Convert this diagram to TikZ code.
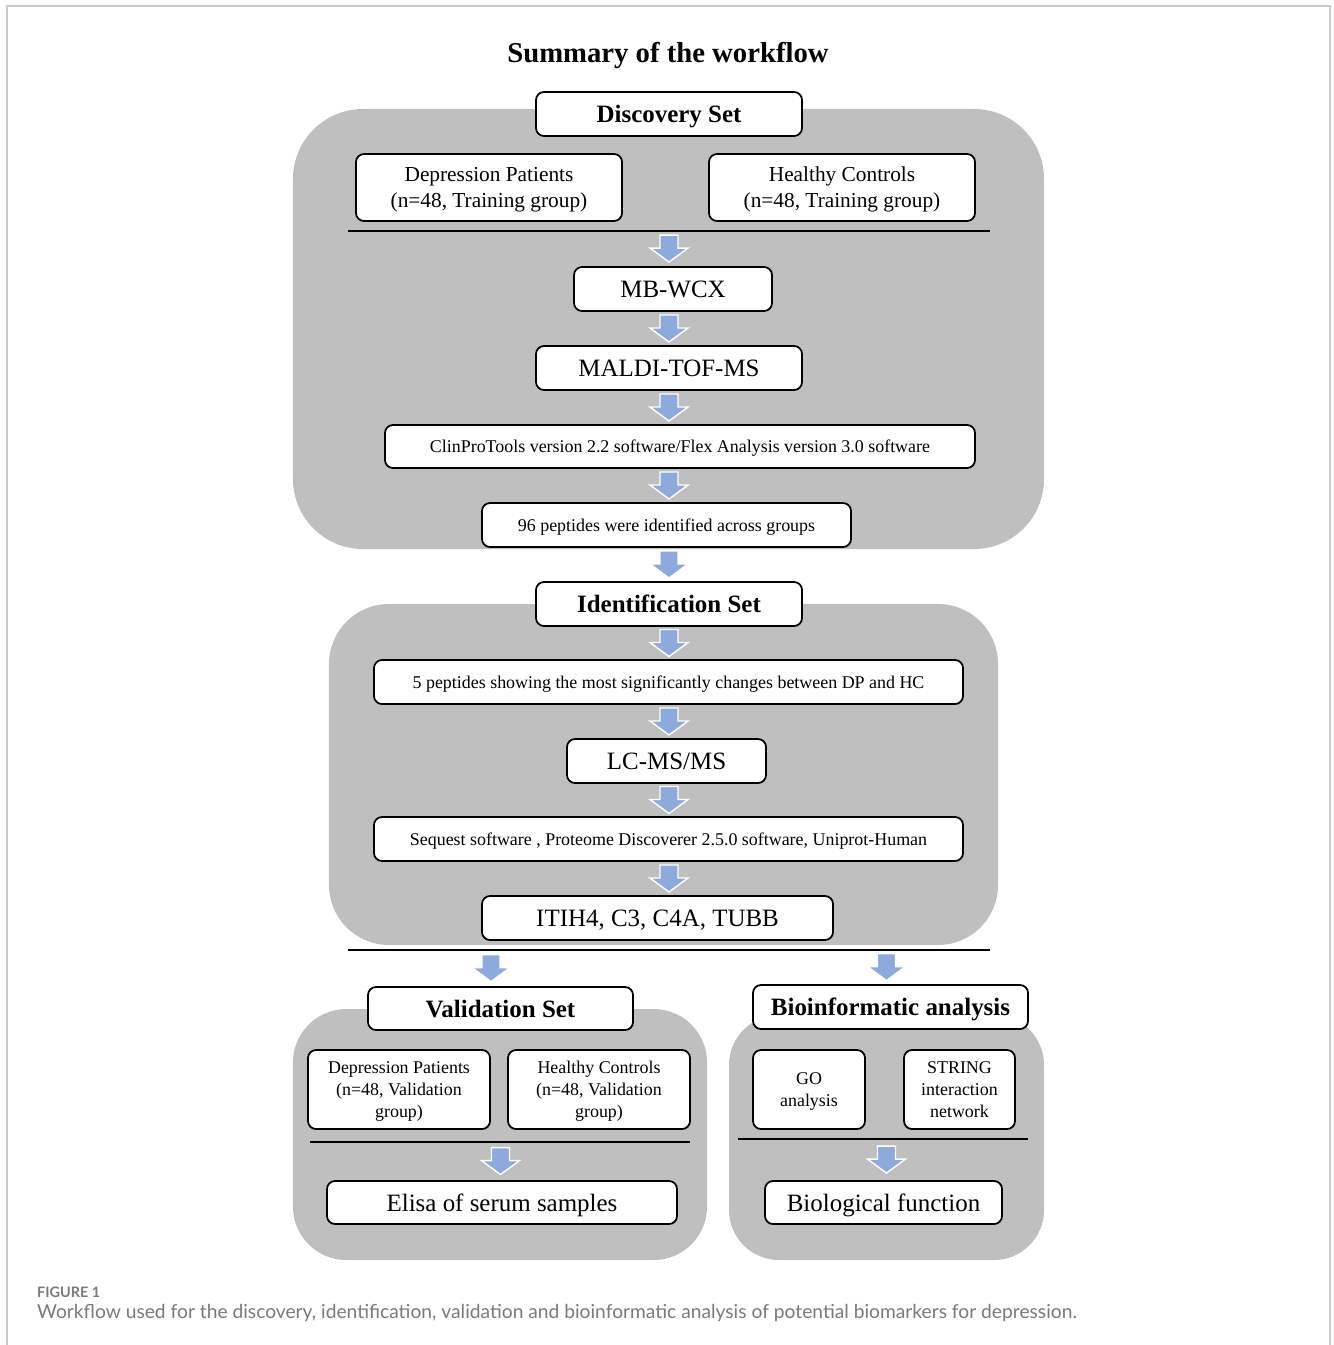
\documentclass[tikz,border=0pt]{standalone}
\usepackage{fontspec}
\setmainfont{Liberation Serif}
\newfontfamily\captionfont{Lato}
\usetikzlibrary{calc}

\definecolor{panelgray}{HTML}{BFBFBF}
\definecolor{arrowblue}{HTML}{8EA9DB}
\definecolor{framegray}{HTML}{CACACA}
\definecolor{captiongray}{HTML}{7A7A7A}

% block arrow, centred between two anchors, x taken from a reference node
\newcommand{\flowarrow}[3]{%
  \draw[blockarrow] ($(#2 -| #1)!0.5!(#3 -| #1)$) ++(-9,-13.5) -- ++(18,0) -- ++(0,13)
    -- ++(10,0) -- ++(-19,14) -- ++(-19,-14) -- ++(10,0) -- cycle;}

\begin{document}
\begin{tikzpicture}[
  x=0.03cm, y=-0.03cm,
  panel/.style={rectangle,fill=panelgray,inner sep=0pt},
  box/.style={rectangle,draw,fill=white,line width=1.5pt,rounded corners=0.24cm,
              align=center,inner sep=0pt,text depth=0pt},
  bigbox/.style={box,font=\fontsize{21.3}{25}\selectfont},
  headbox/.style={box,font=\bfseries\fontsize{21.3}{25}\selectfont},
  smallbox/.style={box,font=\fontsize{15.3}{18.8}\selectfont},
  groupbox/.style={box,font=\fontsize{18.2}{22.2}\selectfont},
  sepline/.style={line width=2.4pt},
  blockarrow/.style={fill=arrowblue,draw=white,line width=1.2pt},
  title/.style={font=\bfseries\fontsize{24.5}{29}\selectfont,inner sep=0pt,text depth=0pt},
]
\useasboundingbox (0,0) rectangle (1333,1345);

% frame
\draw[framegray,line width=1.5pt] (7,1345) -- (7,6) -- (1330,6) -- (1330,1345);

\node[title] (title) at (668,52) {Summary of the workflow};

% === Discovery Set ===
\node[panel,rounded corners=2.1cm,minimum width=22.53cm,minimum height=13.2cm] (discpanel) at (668.5,329) {};
\node[headbox,minimum width=7.98cm,minimum height=1.32cm] (disc) at (669,114) {Discovery Set};
\node[groupbox,minimum width=7.98cm,minimum height=2.01cm] (dptrain) at (489,187.5) {Depression Patients\\(n=48, Training group)};
\node[groupbox,minimum width=7.98cm,minimum height=2.01cm] (hctrain) at (842,187.5) {Healthy Controls\\(n=48, Training group)};
\draw[sepline] (348,231) -- (990,231);
\node[bigbox,minimum width=5.94cm,minimum height=1.32cm] (mbwcx) at (673,289) {MB-WCX};
\node[bigbox,minimum width=7.98cm,minimum height=1.32cm] (maldi) at (669,368) {MALDI-TOF-MS};
\node[smallbox,minimum width=17.7cm,minimum height=1.29cm] (clin) at (680,446.5) {ClinProTools version 2.2 software/Flex Analysis version 3.0 software};
\node[smallbox,minimum width=11.07cm,minimum height=1.32cm] (pep96) at (666.5,525) {96 peptides were identified across groups};

% === Identification Set ===
\node[panel,rounded corners=1.8cm,minimum width=20.07cm,minimum height=10.23cm] (identpanel) at (663.5,774.5) {};
\node[headbox,minimum width=7.98cm,minimum height=1.32cm] (idset) at (669,604) {Identification Set};
\node[smallbox,minimum width=17.67cm,minimum height=1.32cm] (pep5) at (668.5,682) {5 peptides showing the most significantly changes between DP and HC};
\node[bigbox,minimum width=5.97cm,minimum height=1.32cm] (lcms) at (666.5,761) {LC-MS/MS};
\node[smallbox,minimum width=17.67cm,minimum height=1.32cm] (seq) at (668.5,839) {Sequest software , Proteome Discoverer 2.5.0 software, Uniprot-Human};
\node[bigbox,minimum width=10.53cm,minimum height=1.32cm] (itih) at (657.5,918) {ITIH4, C3, C4A, TUBB};
\draw[sepline] (348,950) -- (990,950);

% === Validation Set ===
\node[panel,rounded corners=1.6cm,minimum width=12.42cm,minimum height=7.53cm] (valpanel) at (500,1134.5) {};
\node[headbox,minimum width=7.95cm,minimum height=1.29cm] (valset) at (500.5,1008.5) {Validation Set};
\node[smallbox,minimum width=5.46cm,minimum height=2.37cm] (dpval) at (399,1089.5) {Depression Patients\\(n=48, Validation\\group)};
\node[smallbox,minimum width=5.46cm,minimum height=2.37cm] (hcval) at (599,1089.5) {Healthy Controls\\(n=48, Validation\\group)};
\draw[sepline] (310,1142) -- (690,1142);
\node[bigbox,minimum width=10.5cm,minimum height=1.29cm] (elisa) at (502,1202.5) {Elisa of serum samples};

% === Bioinformatic analysis ===
\node[panel,rounded corners=1.5cm,minimum width=9.45cm,minimum height=7.35cm] (biopanel) at (886.5,1137.5) {};
\node[headbox,minimum width=8.25cm,minimum height=1.32cm] (bioset) at (890.5,1007) {Bioinformatic analysis};
\node[smallbox,minimum width=3.36cm,minimum height=2.37cm] (go) at (809,1089.5) {GO\\analysis};
\node[smallbox,minimum width=3.33cm,minimum height=2.37cm] (string) at (959.5,1089.5) {STRING\\interaction\\network};
\draw[sepline] (738,1139) -- (1028,1139);
\node[bigbox,minimum width=7.11cm,minimum height=1.29cm] (biofunc) at (883.5,1202.5) {Biological function};

% arrows
\coordinate (spine) at (669,0);
\coordinate (valarrow) at (491,0);
\coordinate (sep1) at (669,231);
\coordinate (sep2) at (669,950);
\coordinate (sep3) at (500,1142);
\coordinate (sep4) at (886,1139);
\flowarrow{spine}{sep1}{mbwcx.north}
\flowarrow{spine}{mbwcx.south}{maldi.north}
\flowarrow{spine}{maldi.south}{clin.north}
\flowarrow{spine}{clin.south}{pep96.north}
\flowarrow{spine}{pep96.south}{idset.north}
\flowarrow{spine}{idset.south}{pep5.north}
\flowarrow{spine}{pep5.south}{lcms.north}
\flowarrow{spine}{lcms.south}{seq.north}
\flowarrow{spine}{seq.south}{itih.north}
\flowarrow{valarrow}{sep2}{valset.north}
\flowarrow{biopanel}{sep2}{bioset.north}
\flowarrow{valset}{sep3}{elisa.north}
\flowarrow{biopanel}{sep4}{biofunc.north}

% caption
\node[anchor=base west,inner sep=0pt,text=captiongray,font=\captionfont\bfseries\fontsize{12.3}{14}\selectfont] (figlabel) at (37,1297) {FIGURE 1};
\node[anchor=base west,inner sep=0pt,text=captiongray,font=\captionfont\fontsize{16.4}{19}\selectfont] (caption) at (37,1318) {Workflow used for the discovery, identification, validation and bioinformatic analysis of potential biomarkers for depression.};

\end{tikzpicture}
\end{document}
